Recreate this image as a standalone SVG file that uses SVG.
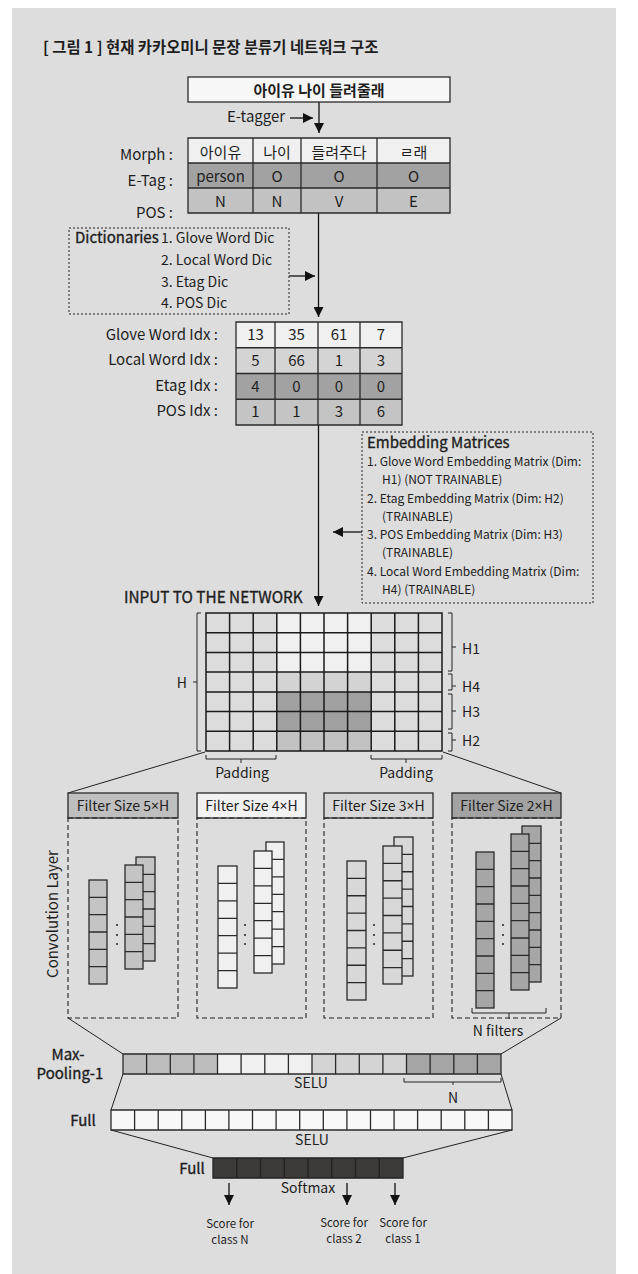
<svg xmlns="http://www.w3.org/2000/svg" width="638" height="1274" viewBox="0 0 638 1274">
<style>
text{font-family:"Noto Sans CJK KR","Noto Sans",sans-serif;fill:#1e1e1e}
.t15{font-size:15px}
.t14{font-size:14px}
.t12{font-size:12px}
.t11{font-size:11.5px}
.mid{text-anchor:middle}
.end{text-anchor:end}
.b{font-weight:bold}
.m{stroke:#1e1e1e;stroke-width:0.35}
.x{font-family:"Noto Sans","DejaVu Sans",sans-serif}
.cell{stroke:#2a2a2a;stroke-width:1.3}
.ln{stroke:#2a2a2a;stroke-width:1.3;fill:none}
.thin{stroke:#222;stroke-width:1;fill:none}
.dot{stroke:#222;stroke-width:1;fill:none;stroke-dasharray:2 2}
.dash{stroke:#222;stroke-width:1.1;fill:none;stroke-dasharray:5 3}
.arrow{stroke:#111;stroke-width:1.3;fill:none}
</style>
<defs>
<marker id="ah" viewBox="0 0 10 10" refX="10" refY="5" markerWidth="10" markerHeight="10" markerUnits="userSpaceOnUse" orient="auto">
<path d="M0,0 L10,5 L0,10 Z" fill="#111"/>
</marker>
</defs>
<rect x="12" y="8" width="604" height="1266" fill="#dcdddc"/>
<text id="title" x="43" y="53" class="b" style="font-size:15.4px">[ 그림 1 ] 현재 카카오미니 문장 분류기 네트워크 구조</text>

<g id="connectors">
<line x1="319" y1="102" x2="319" y2="133" class="arrow" marker-end="url(#ah)"/>
<line x1="290" y1="118" x2="313" y2="118" class="arrow" marker-end="url(#ah)"/>
<line x1="318.5" y1="213" x2="318.5" y2="317" class="arrow" marker-end="url(#ah)"/>
<line x1="289" y1="276" x2="315" y2="276" class="arrow" marker-end="url(#ah)"/>
<line x1="318.5" y1="425" x2="318.5" y2="606" class="arrow" marker-end="url(#ah)"/>
<line x1="362" y1="532" x2="333" y2="532" class="arrow" marker-end="url(#ah)"/>
<line x1="205" y1="752" x2="68" y2="793" class="thin"/>
<line x1="443" y1="752" x2="561" y2="793" class="thin"/>
<line x1="68" y1="1018" x2="123" y2="1054" class="thin"/>
<line x1="561" y1="1018" x2="501" y2="1054" class="thin"/>
<line x1="123" y1="1074" x2="111" y2="1110" class="thin"/>
<line x1="501" y1="1074" x2="512" y2="1110" class="thin"/>
<line x1="111" y1="1130" x2="213" y2="1158" class="thin"/>
<line x1="512" y1="1130" x2="403" y2="1158" class="thin"/>
<line x1="229" y1="1183" x2="229" y2="1205" class="arrow" marker-end="url(#ah)"/>
<line x1="347" y1="1183" x2="347" y2="1205" class="arrow" marker-end="url(#ah)"/>
<line x1="395" y1="1183" x2="395" y2="1205" class="arrow" marker-end="url(#ah)"/>
</g>

<g id="sentence">
<rect x="188" y="77" width="262" height="25" fill="#f7f7f7" class="cell"/>
<text x="319" y="96" class="t15 b mid">아이유 나이 들려줄래</text>
</g>
<text id="etagger" x="227" y="122" class="t15">E-tagger</text>

<g id="morph-table">
<rect x="188" y="138" width="262" height="25" fill="#f0f0f0"/>
<rect x="188" y="163" width="262" height="25" fill="#a2a2a2"/>
<rect x="188" y="188" width="262" height="25" fill="#c2c2c2"/>
<path d="M188,138H450V213H188Z M188,163H450 M188,188H450 M253,138V213 M301,138V213 M377,138V213" class="ln"/>
<text x="173" y="160" class="t15 end">Morph :</text>
<text x="173" y="186" class="t15 end">E-Tag :</text>
<text x="173" y="218" class="t15 end">POS :</text>
<text x="220.5" y="158" class="t15 mid">아이유</text>
<text x="277" y="158" class="t15 mid">나이</text>
<text x="339" y="158" class="t15 mid">들려주다</text>
<text x="413.5" y="158" class="t15 mid">ㄹ래</text>
<text x="220.5" y="182" class="t15 mid">person</text>
<text x="277" y="182" class="t15 mid">O</text>
<text x="339" y="182" class="t15 mid">O</text>
<text x="413.5" y="182" class="t15 mid">O</text>
<text x="220.5" y="207" class="t15 mid">N</text>
<text x="277" y="207" class="t15 mid">N</text>
<text x="339" y="207" class="t15 mid">V</text>
<text x="413.5" y="207" class="t15 mid">E</text>
</g>

<g id="dictionaries">
<rect x="69" y="228" width="220" height="86" class="dot"/>
<text x="75" y="243" class="t15 m">Dictionaries</text>
<text x="161" y="243" class="t14">1. Glove Word Dic</text>
<text x="161" y="265" class="t14">2. Local Word Dic</text>
<text x="161" y="287" class="t14">3. Etag Dic</text>
<text x="161" y="308" class="t14">4. POS Dic</text>
</g>

<g id="idx-table">
<rect x="236" y="322" width="166" height="25.75" fill="#f0f0f0"/>
<rect x="236" y="347.75" width="166" height="25.75" fill="#d4d4d4"/>
<rect x="236" y="373.5" width="166" height="25.75" fill="#a2a2a2"/>
<rect x="236" y="399.25" width="166" height="25.75" fill="#c4c4c4"/>
<path d="M236,322H402V425H236Z M236,347.75H402 M236,373.5H402 M236,399.25H402 M275,322V425 M318,322V425 M360,322V425" class="ln"/>
<text x="218" y="340" class="t15 end">Glove Word Idx :</text>
<text x="218" y="365" class="t15 end">Local Word Idx :</text>
<text x="218" y="391" class="t15 end">Etag Idx :</text>
<text x="218" y="416" class="t15 end">POS Idx :</text>
<text x="255.5" y="340" class="t15 mid">13</text>
<text x="296.5" y="340" class="t15 mid">35</text>
<text x="339" y="340" class="t15 mid">61</text>
<text x="381" y="340" class="t15 mid">7</text>
<text x="255.5" y="366" class="t15 mid">5</text>
<text x="296.5" y="366" class="t15 mid">66</text>
<text x="339" y="366" class="t15 mid">1</text>
<text x="381" y="366" class="t15 mid">3</text>
<text x="255.5" y="392" class="t15 mid">4</text>
<text x="296.5" y="392" class="t15 mid">0</text>
<text x="339" y="392" class="t15 mid">0</text>
<text x="381" y="392" class="t15 mid">0</text>
<text x="255.5" y="417" class="t15 mid">1</text>
<text x="296.5" y="417" class="t15 mid">1</text>
<text x="339" y="417" class="t15 mid">3</text>
<text x="381" y="417" class="t15 mid">6</text>
</g>

<g id="embedding">
<rect x="362" y="432" width="231" height="171" class="dot"/>
<text x="367" y="448" class="t15 m">Embedding Matrices</text>
<text x="367" y="466" class="t12">1. Glove Word Embedding Matrix (Dim:</text>
<text x="382" y="484" class="t12">H1) (NOT TRAINABLE)</text>
<text x="367" y="503" class="t12">2. Etag Embedding Matrix (Dim: H2)</text>
<text x="382" y="521" class="t12">(TRAINABLE)</text>
<text x="367" y="539" class="t12">3. POS Embedding Matrix (Dim: H3)</text>
<text x="382" y="557" class="t12">(TRAINABLE)</text>
<text x="367" y="576" class="t12">4. Local Word Embedding Matrix (Dim:</text>
<text x="382" y="594" class="t12">H4) (TRAINABLE)</text>
</g>

<g id="input-grid">
<text x="124" y="603" class="m" style="font-size:15.3px">INPUT TO THE NETWORK</text>
<rect x="206" y="613" width="236" height="138" fill="#dcdcdc"/>
<rect x="276.8" y="613" width="94.4" height="59.1" fill="#f0f0f0"/>
<rect x="276.8" y="672.1" width="94.4" height="19.8" fill="#d3d3d3"/>
<rect x="276.8" y="691.9" width="94.4" height="39.4" fill="#a0a0a0"/>
<rect x="276.8" y="731.3" width="94.4" height="19.7" fill="#c2c2c2"/>
<path d="M206,613H442V751H206Z M206,632.7H442 M206,652.4H442 M206,672.1H442 M206,691.9H442 M206,711.6H442 M206,731.3H442 M229.6,613V751 M253.2,613V751 M276.8,613V751 M300.4,613V751 M324,613V751 M347.6,613V751 M371.2,613V751 M394.8,613V751 M418.4,613V751" stroke="#1a1a1a" stroke-width="1.5" fill="none"/>
<path d="M201,613H197V751H201 M197,682H193" class="thin"/>
<text x="187" y="688" class="t14 end">H</text>
<path d="M448,613H452V671H448 M452,647H456 M448,674H452V690H448 M452,686H456 M448,694H452V729H448 M452,711H456 M448,733H452V751H448 M452,740H456" class="thin"/>
<text x="462" y="654" class="t14">H1</text>
<text x="462" y="692" class="t14">H4</text>
<text x="462" y="717" class="t14">H3</text>
<text x="462" y="746" class="t14">H2</text>
<path d="M206,755V759H276V755 M241,759V763 M371,755V759H442V755 M406,759V763" class="thin"/>
<text x="242" y="778" class="t14 mid">Padding</text>
<text x="406" y="778" class="t14 mid">Padding</text>
</g>

<text id="conv-label" transform="translate(58,914) rotate(-90)" class="t15 mid">Convolution Layer</text>

<g id="filter-5">
<rect x="68" y="793" width="110" height="25" fill="#bfbfbf" class="cell"/>
<text x="123" y="811" class="t14 mid">Filter Size 5<tspan class="x">×</tspan>H</text>
<rect x="68" y="818" width="110" height="200" class="dash"/>
<g fill="#c4c4c4" class="cell">
<rect x="89" y="880" width="18" height="104"/>
<path d="M89,897.3H107 M89,914.7H107 M89,932H107 M89,949.3H107 M89,966.7H107" class="ln"/>
<rect x="136" y="857" width="19" height="104"/>
<path d="M136,874.3H155 M136,891.7H155 M136,909H155 M136,926.3H155 M136,943.7H155" class="ln"/>
<rect x="125" y="865" width="18" height="104"/>
<path d="M125,882.3H143 M125,899.7H143 M125,917H143 M125,934.3H143 M125,951.7H143" class="ln"/>
</g>
<circle cx="117" cy="925" r="1" fill="#222"/><circle cx="117" cy="935" r="1" fill="#222"/><circle cx="117" cy="944" r="1" fill="#222"/>
</g>

<g id="filter-4">
<rect x="197" y="793" width="109" height="25" fill="#f2f2f2" class="cell"/>
<text x="251.5" y="811" class="t14 mid">Filter Size 4<tspan class="x">×</tspan>H</text>
<rect x="197" y="818" width="109" height="200" class="dash"/>
<g fill="#f0f0f0" class="cell">
<rect x="218" y="866" width="19" height="122"/>
<path d="M218,883.4H237 M218,900.9H237 M218,918.3H237 M218,935.7H237 M218,953.1H237 M218,970.6H237" class="ln"/>
<rect x="266" y="842" width="18" height="122"/>
<path d="M266,859.4H284 M266,876.9H284 M266,894.3H284 M266,911.7H284 M266,929.1H284 M266,946.6H284" class="ln"/>
<rect x="254" y="851" width="18" height="122"/>
<path d="M254,868.4H272 M254,885.9H272 M254,903.3H272 M254,920.7H272 M254,938.1H272 M254,955.6H272" class="ln"/>
</g>
<circle cx="245" cy="925" r="1" fill="#222"/><circle cx="245" cy="935" r="1" fill="#222"/><circle cx="245" cy="944" r="1" fill="#222"/>
</g>

<g id="filter-3">
<rect x="324" y="793" width="109" height="25" fill="#d8d8d8" class="cell"/>
<text x="378.5" y="811" class="t14 mid">Filter Size 3<tspan class="x">×</tspan>H</text>
<rect x="324" y="818" width="109" height="200" class="dash"/>
<g fill="#d8d8d8" class="cell">
<rect x="347" y="861" width="19" height="139"/>
<path d="M347,878.4H366 M347,895.75H366 M347,913.1H366 M347,930.5H366 M347,947.9H366 M347,965.25H366 M347,982.6H366" class="ln"/>
<rect x="394" y="837" width="19" height="139"/>
<path d="M394,854.4H413 M394,871.75H413 M394,889.1H413 M394,906.5H413 M394,923.9H413 M394,941.25H413 M394,958.6H413" class="ln"/>
<rect x="383" y="846" width="19" height="138"/>
<path d="M383,863.4H402 M383,880.75H402 M383,898.1H402 M383,915.5H402 M383,932.9H402 M383,950.25H402 M383,967.6H402" class="ln"/>
</g>
<circle cx="374" cy="925" r="1" fill="#222"/><circle cx="374" cy="935" r="1" fill="#222"/><circle cx="374" cy="944" r="1" fill="#222"/>
</g>

<g id="filter-2">
<rect x="452" y="793" width="109" height="25" fill="#a3a3a3" class="cell"/>
<text x="506.5" y="811" class="t14 mid">Filter Size 2<tspan class="x">×</tspan>H</text>
<rect x="452" y="818" width="109" height="200" class="dash"/>
<g fill="#a6a6a6" class="cell">
<rect x="476" y="852" width="18" height="156"/>
<path d="M476,869.3H494 M476,886.7H494 M476,904H494 M476,921.3H494 M476,938.7H494 M476,956H494 M476,973.3H494 M476,990.7H494" class="ln"/>
<rect x="522" y="826" width="19" height="156"/>
<path d="M522,843.3H541 M522,860.7H541 M522,878H541 M522,895.3H541 M522,912.7H541 M522,930H541 M522,947.3H541 M522,964.7H541" class="ln"/>
<rect x="511" y="834" width="18" height="156"/>
<path d="M511,851.3H529 M511,868.7H529 M511,886H529 M511,903.3H529 M511,920.7H529 M511,938H529 M511,955.3H529 M511,972.7H529" class="ln"/>
</g>
<circle cx="503" cy="925" r="1" fill="#222"/><circle cx="503" cy="935" r="1" fill="#222"/><circle cx="503" cy="944" r="1" fill="#222"/>
<path d="M472,1008V1013H546V1008 M509,1013V1019" class="thin"/>
<text x="498" y="1036" class="t14 mid">N filters</text>
</g>

<g id="maxpool">
<text x="68" y="1060" class="t15 mid m">Max-</text>
<text x="70" y="1079" class="t15 mid m">Pooling-1</text>
<rect x="123" y="1054" width="94.5" height="20" fill="#bdbdbd"/>
<rect x="217.5" y="1054" width="94.5" height="20" fill="#f0f0f0"/>
<rect x="312" y="1054" width="94.5" height="20" fill="#d4d4d4"/>
<rect x="406.5" y="1054" width="94.5" height="20" fill="#a5a5a5"/>
<path d="M123,1054H501V1074H123Z M146.6,1054V1074 M170.3,1054V1074 M193.9,1054V1074 M217.5,1054V1074 M241.1,1054V1074 M264.8,1054V1074 M288.4,1054V1074 M312,1054V1074 M335.6,1054V1074 M359.3,1054V1074 M382.9,1054V1074 M406.5,1054V1074 M430.1,1054V1074 M453.8,1054V1074 M477.4,1054V1074" class="ln"/>
<text x="311" y="1088" class="t14 mid">SELU</text>
<path d="M404,1078V1082H501V1078 M453,1082V1085" class="thin"/>
<text x="453" y="1103" class="t14 mid">N</text>
</g>

<g id="full-1">
<text x="83" y="1126" class="t15 mid m">Full</text>
<rect x="111" y="1110" width="401" height="20" fill="#f8f8f8"/>
<path d="M111,1110H512V1130H111Z M134.6,1110V1130 M158.2,1110V1130 M181.8,1110V1130 M205.4,1110V1130 M228.9,1110V1130 M252.5,1110V1130 M276.1,1110V1130 M299.7,1110V1130 M323.3,1110V1130 M346.9,1110V1130 M370.5,1110V1130 M394.1,1110V1130 M417.6,1110V1130 M441.2,1110V1130 M464.8,1110V1130 M488.4,1110V1130" class="ln"/>
<text x="312" y="1145" class="t14 mid">SELU</text>
</g>

<g id="full-2">
<text x="192" y="1174" class="t15 mid m">Full</text>
<rect x="213" y="1158" width="190" height="20" fill="#3d3a3a"/>
<path d="M213,1158H403V1178H213Z M236.75,1158V1178 M260.5,1158V1178 M284.25,1158V1178 M308,1158V1178 M331.75,1158V1178 M355.5,1158V1178 M379.25,1158V1178" stroke="#222" stroke-width="1.3" fill="none"/>
<text x="308" y="1193" class="t14 mid">Softmax</text>
</g>

<g id="scores">
<text x="230" y="1228" class="t11 mid">Score for</text>
<text x="230" y="1244" class="t11 mid">class N</text>
<text x="344" y="1227" class="t11 mid">Score for</text>
<text x="344" y="1243" class="t11 mid">class 2</text>
<text x="403" y="1227" class="t11 mid">Score for</text>
<text x="403" y="1243" class="t11 mid">class 1</text>
</g>
</svg>
